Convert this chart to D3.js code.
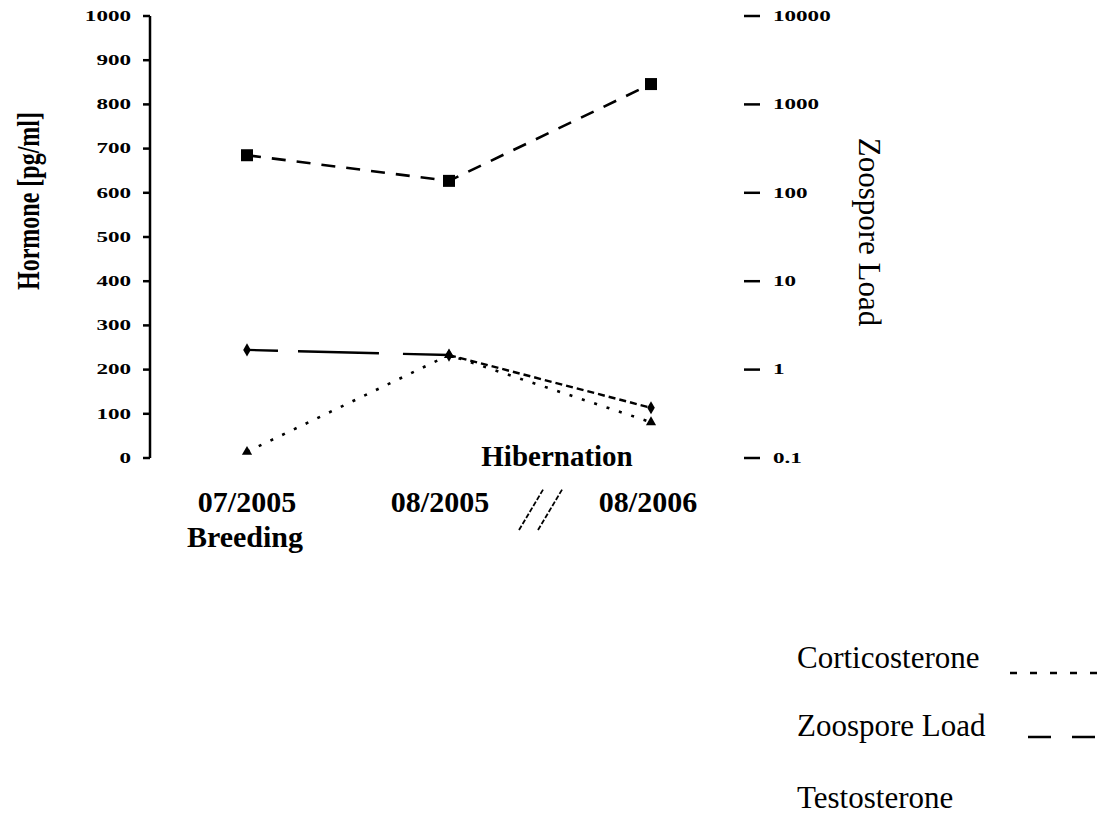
<!DOCTYPE html>
<html>
<head>
<meta charset="utf-8">
<script src="https://cdn.jsdelivr.net/npm/d3@7"></script>
<style>
  html, body { margin: 0; padding: 0; background: #fff; }
  svg { display: block; font-family: "Liberation Serif", "Times New Roman", serif; }
</style>
</head>
<body>
<svg id="chart" width="1107" height="819"></svg>
<script>
// Sampling dates and their seasonal notes
const dates = ["07/2005", "08/2005", "08/2006"];
const seasons = ["Breeding", "", ""];
const periodNote = "Hibernation";

// Hormone concentrations (pg/ml, left axis)
const testosterone = [685, 627, 846];
const corticosterone = [14, 233, 81];
// Zoospore load (log scale, right axis)
const zoosporeLoad = [1.67, 1.46, 0.37];

// Tick labels
const hormoneTicks = [0, 100, 200, 300, 400, 500, 600, 700, 800, 900, 1000];
const loadTicks = [0.1, 1, 10, 100, 1000, 10000];

const legendNames = ["Corticosterone", "Zoospore Load", "Testosterone"];

const svg = d3.select("#chart");

const x = d3.scalePoint().domain(dates).range([247, 651]);
const yL = d3.scaleLinear().domain([0, 1000]).range([458, 16]);
const yR = d3.scaleLog().domain([0.1, 10000]).range([458, 16]);

// Left axis
const leftAxis = svg.append("g").attr("transform", "translate(150,0)");
leftAxis.append("line")
  .attr("x1", 0).attr("x2", 0).attr("y1", yL(0)).attr("y2", yL(1000))
  .attr("stroke", "#000").attr("stroke-width", 2.5);
leftAxis.selectAll("line.tick").data(hormoneTicks).join("line")
  .attr("class", "tick")
  .attr("x1", -7).attr("x2", 0)
  .attr("y1", d => yL(d)).attr("y2", d => yL(d))
  .attr("stroke", "#000").attr("stroke-width", 2.5);
svg.append("g").selectAll("g").data(hormoneTicks).join("g")
  .attr("transform", d => `translate(131,${yL(d)}) scale(1.65,1)`)
  .append("text")
  .attr("text-anchor", "end")
  .attr("dominant-baseline", "central")
  .attr("font-size", 14)
  .attr("font-weight", "bold")
  .text(d => d);

// Right axis (ticks only)
svg.append("g").selectAll("line").data(loadTicks).join("line")
  .attr("x1", 744).attr("x2", 760)
  .attr("y1", d => yR(d)).attr("y2", d => yR(d))
  .attr("stroke", "#000").attr("stroke-width", 2.5);
svg.append("g").selectAll("g").data(loadTicks).join("g")
  .attr("transform", d => `translate(773,${yR(d)}) scale(1.65,1)`)
  .append("text")
  .attr("text-anchor", "start")
  .attr("dominant-baseline", "central")
  .attr("font-size", 14)
  .attr("font-weight", "bold")
  .text(d => d);

// Axis titles
svg.append("g").attr("transform", "translate(28,201) rotate(-90) scale(1,1.35)")
  .append("text")
  .attr("text-anchor", "middle").attr("dominant-baseline", "central")
  .attr("font-size", 24)
  .attr("font-weight", "bold")
  .text("Hormone [pg/ml]");
svg.append("text")
  .attr("transform", "translate(869,232) rotate(90)")
  .attr("text-anchor", "middle").attr("dominant-baseline", "central")
  .attr("font-size", 31)
  .text("Zoospore Load");

// X labels
const xLabelShift = [0, -9, -3];
svg.append("g").selectAll("text").data(dates).join("text")
  .attr("x", (d, i) => x(d) + xLabelShift[i]).attr("y", 512)
  .attr("text-anchor", "middle")
  .attr("font-size", 30).attr("font-weight", "bold")
  .text(d => d);
svg.append("g").selectAll("text").data(seasons).join("text")
  .attr("x", (d, i) => x(dates[i]) - 2).attr("y", 547)
  .attr("text-anchor", "middle")
  .attr("font-size", 30).attr("font-weight", "bold")
  .text(d => d);
svg.append("text")
  .attr("x", (x(dates[1]) + x(dates[2])) / 2 + 7).attr("y", 466)
  .attr("text-anchor", "middle")
  .attr("font-size", 29).attr("font-weight", "bold")
  .text(periodNote);

// Time-gap marks between the 2005 and 2006 samples
const gapX = (x(dates[1]) + x(dates[2])) / 2 - 8;
[0, 19].forEach(off => {
  svg.append("line")
    .attr("x1", gapX + off - 23).attr("y1", 530)
    .attr("x2", gapX + off + 2).attr("y2", 488)
    .attr("stroke", "#000").attr("stroke-width", 1.8)
    .attr("stroke-dasharray", "5,2");
});

const lineL = d3.line().x((d, i) => x(dates[i])).y(d => yL(d));

// Testosterone
svg.append("path").datum(testosterone)
  .attr("d", lineL).attr("fill", "none")
  .attr("stroke", "#000").attr("stroke-width", 2.6)
  .attr("stroke-dasharray", "14,11");
svg.append("g").selectAll("rect").data(testosterone).join("rect")
  .attr("x", (d, i) => x(dates[i]) - 6).attr("y", d => yL(d) - 6)
  .attr("width", 12).attr("height", 12).attr("fill", "#000");

// Corticosterone
svg.append("path").datum(corticosterone)
  .attr("d", lineL).attr("fill", "none")
  .attr("stroke", "#000").attr("stroke-width", 2.6)
  .attr("stroke-dasharray", "3,10");
const tri = d3.symbol().type(d3.symbolTriangle).size(45);
svg.append("g").selectAll("path").data(corticosterone).join("path")
  .attr("transform", (d, i) => `translate(${x(dates[i])},${yL(d)})`)
  .attr("d", tri).attr("fill", "#000");

// Zoospore load, drawn segment by segment
const zooSegments = d3.pairs(zoosporeLoad.map((v, i) => [x(dates[i]), yR(v)]));
const zooDash = ["31,20,81,24,120,0", "7,4"];
svg.append("g").selectAll("line").data(zooSegments).join("line")
  .attr("x1", d => d[0][0]).attr("y1", d => d[0][1])
  .attr("x2", d => d[1][0]).attr("y2", d => d[1][1])
  .attr("stroke", "#000").attr("stroke-width", 2.4)
  .attr("stroke-dasharray", (d, i) => zooDash[i]);
const dia = d3.symbol().type(d3.symbolDiamond).size(50);
svg.append("g").selectAll("path").data(zoosporeLoad).join("path")
  .attr("transform", (d, i) => `translate(${x(dates[i])},${yR(d)})`)
  .attr("d", dia).attr("fill", "#000");

// Legend
const legendY = [668, 736, 808];
const legendDash = ["7,13", "23,21", null];
const legendStart = [1010, 1028, null];
const legend = svg.append("g");
legend.selectAll("text").data(legendNames).join("text")
  .attr("x", 797).attr("y", (d, i) => legendY[i])
  .attr("font-size", 31)
  .text(d => d);
legend.selectAll("line").data(legendNames.filter((d, i) => legendDash[i])).join("line")
  .attr("x1", (d, i) => legendStart[i]).attr("x2", 1097)
  .attr("y1", (d, i) => legendY[i] + (i === 0 ? 5 : 1))
  .attr("y2", (d, i) => legendY[i] + (i === 0 ? 5 : 1))
  .attr("stroke", "#000").attr("stroke-width", 2.6)
  .attr("stroke-dasharray", (d, i) => legendDash[i]);
</script>
</body>
</html>
